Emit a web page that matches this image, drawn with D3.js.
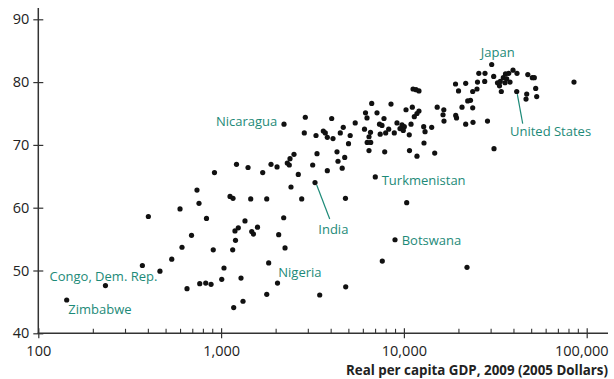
<!DOCTYPE html>
<html>
<head>
<meta charset="utf-8">
<script src="https://cdn.jsdelivr.net/npm/d3@7"></script>
<style>
  html, body { margin: 0; padding: 0; background: #fff; }
  svg { display: block; }
  text { font-family: "Open Sans", "Noto Sans", sans-serif; }
</style>
</head>
<body>
<svg id="chart" width="614" height="379"></svg>
<script>
// Real GDP per capita, 2009 (2005 dollars), one entry per country
const gdp = [
  143, 233, 371, 400, 463, 537, 596, 611, 651, 689,
  738, 757, 764, 824, 832, 881, 906, 920, 1008, 1037,
  1119, 1162, 1157, 1172, 1191, 1199, 1214, 1242, 1285, 1318,
  1351, 1404, 1452, 1471, 1504, 1582, 1689, 1777, 1777, 1821,
  1875, 2023, 2035, 2066, 2200, 2209, 2237, 2302, 2361, 2382,
  2412, 2505, 2644, 2760, 2852, 2888, 3170, 3264, 3305, 3347,
  3463, 3624, 3715, 3811, 3811, 4027, 4094, 4305, 4360, 4488,
  4597, 4660, 4745, 4790, 4805, 4978, 5083, 5415, 6088, 6166,
  6283, 6298, 6443, 6443, 6566, 6582, 6666, 6974, 7127, 7354,
  7589, 7420, 7617, 7782, 7852, 7950, 8256, 8500, 8860, 8940,
  9166, 9760, 10050, 9520, 9920, 10270, 10360, 10700, 10730, 10940,
  11120, 11220, 11650, 12090, 12090, 11790, 11400, 11790, 12830, 13050,
  12880, 14190, 14740, 15210, 16530, 16370, 16570, 19160, 19210, 19400,
  19900, 20790, 21780, 21780, 22140, 22340, 23140, 23790, 23880, 23790,
  25110, 25270, 25690, 27770, 27670, 28660, 30220, 30990, 31110, 32510,
  33340, 33680, 34980, 35740, 36510, 38060, 34110, 35960, 37440, 39530,
  41560, 41410, 47620, 50410, 51690, 52600, 46970, 46560, 53270, 85200
];

// Life expectancy at birth, 2009 (years), same order as gdp
const lifeExp = [
  45.3, 47.6, 50.8, 58.6, 49.9, 51.8, 59.8, 53.7, 47.1, 55.6,
  62.8, 60.7, 47.9, 48.0, 58.3, 47.8, 53.3, 65.6, 48.6, 50.4,
  61.8, 61.5, 53.3, 44.1, 56.3, 54.8, 66.9, 56.8, 48.8, 45.1,
  57.9, 66.4, 61.4, 56.2, 55.8, 56.9, 65.6, 61.4, 46.2, 51.2,
  66.9, 66.5, 48.0, 55.7, 58.4, 73.3, 53.6, 67.1, 66.8, 67.8,
  63.3, 68.5, 65.3, 61.4, 71.9, 74.4, 66.8, 64.0, 71.5, 68.6,
  46.1, 72.2, 71.9, 71.2, 65.9, 74.2, 71.0, 68.9, 67.4, 71.9,
  66.3, 72.8, 68.0, 61.5, 47.4, 70.2, 71.5, 73.5, 72.5, 75.1,
  74.3, 70.4, 71.3, 69.1, 72.0, 70.4, 76.6, 64.9, 75.1, 73.3,
  73.1, 71.7, 51.5, 74.2, 68.9, 71.9, 72.5, 76.5, 71.9, 54.9,
  73.5, 73.2, 72.9, 72.6, 72.3, 75.6, 60.8, 71.6, 69.1, 73.3,
  76.0, 78.9, 78.8, 78.6, 75.4, 75.0, 74.5, 68.2, 72.9, 72.1,
  70.3, 72.8, 68.7, 76.0, 75.6, 74.8, 73.8, 79.7, 74.7, 74.3,
  78.6, 76.0, 79.8, 73.3, 50.5, 77.0, 77.1, 75.9, 73.6, 78.5,
  78.9, 80.0, 81.4, 81.4, 80.1, 73.8, 82.8, 80.9, 69.4, 79.9,
  79.4, 80.1, 80.7, 79.9, 80.5, 80.0, 78.5, 81.3, 81.4, 81.9,
  81.4, 78.5, 81.2, 80.7, 80.7, 79.0, 78.1, 77.3, 77.7, 80.0
];

// Countries called out by name
const labelNames = ["Japan", "United States", "Nicaragua", "India", "Turkmenistan",
                    "Botswana", "Nigeria", "Congo, Dem. Rep.", "Zimbabwe"];
const labelGdp  = [30220, 41410, 2209, 3264, 6974, 8940, 2035, 233, 143];
const labelLife = [82.8, 78.5, 73.3, 64.0, 64.9, 54.9, 48.0, 47.6, 45.3];

const xTickValues = [100, 1000, 10000, 100000];
const yTickValues = [40, 50, 60, 70, 80, 90];
const xTitle = "Real per capita GDP, 2009 (2005 Dollars)";
const yTitle = "Life expectancy, 2009 (years)";

// ---- layout ----
const teal = "#1d8a78";
const axisColor = "#333";
const inkColor = "#222";

// label placement relative to the point: [dx, dy, anchor, leader]
const labelLayout = {
  "Japan":            { dx: 6,    dy: -8,   anchor: "middle" },
  "United States":    { dx: -6.7, dy: 44.5, anchor: "start", leader: [0.6, 2.5, 6, 32] },
  "Nicaragua":        { dx: -6.7, dy: 2,    anchor: "end" },
  "India":            { dx: 3.3,  dy: 51,   anchor: "start", leader: [1.7, 2.5, 14.7, 36.5] },
  "Turkmenistan":     { dx: 6.4,  dy: 8,    anchor: "start" },
  "Botswana":         { dx: 6.7,  dy: 4.8,  anchor: "start" },
  "Nigeria":          { dx: 0.8,  dy: -6.3, anchor: "start" },
  "Congo, Dem. Rep.": { dx: -2,   dy: -4.7, anchor: "middle" },
  "Zimbabwe":         { dx: 1.6,  dy: 14,   anchor: "start" }
};

const svg = d3.select("#chart");

const x = d3.scaleLog().domain([100, 100000]).range([38.3, 586.7]);
const y = d3.scaleLinear().domain([40, 90]).range([333.3, 19.3]);
const x0 = x.range()[0], y0 = y.range()[0];

// y-axis title, running off the top edge of the frame
svg.append("text")
  .attr("x", 5).attr("y", -3)
  .attr("font-size", 14).attr("font-weight", 700)
  .attr("fill", inkColor)
  .text(yTitle);

// ---- y axis ----
const yAxis = svg.append("g")
  .attr("transform", `translate(${x0},0)`)
  .call(d3.axisLeft(y).tickValues(yTickValues).tickSizeInner(5).tickSizeOuter(0).tickPadding(4));
yAxis.select(".domain").remove();
yAxis.selectAll(".tick line").attr("x1", -5).attr("x2", 5).attr("stroke", axisColor).attr("stroke-width", 1.2);
yAxis.selectAll(".tick text")
  .attr("font-family", "'Open Sans', sans-serif")
  .attr("font-size", 14.5).attr("fill", inkColor);
svg.append("line")
  .attr("x1", x0).attr("x2", x0).attr("y1", 8).attr("y2", y0 + 0.7)
  .attr("stroke", axisColor).attr("stroke-width", 1.5);

// ---- x axis ----
const xAxis = svg.append("g")
  .attr("transform", `translate(0,${y0})`)
  .call(d3.axisBottom(x).tickValues(xTickValues).tickFormat(d3.format(","))
        .tickSizeInner(5).tickSizeOuter(0).tickPadding(7));
xAxis.select(".domain").remove();
xAxis.selectAll(".tick line").attr("y1", -5).attr("y2", 5).attr("stroke", axisColor).attr("stroke-width", 1.2);
xAxis.selectAll(".tick text")
  .attr("font-family", "'Open Sans', sans-serif")
  .attr("font-size", 14.5).attr("fill", inkColor);
// keep the last label inside the frame
xAxis.selectAll(".tick text").filter(d => d === 100000)
  .attr("text-anchor", "end").attr("x", 608 - x(100000));

// minor log ticks
const minor = [];
[100, 1000, 10000].forEach(dec => { for (let k = 2; k <= 9; k++) minor.push(dec * k); });
svg.append("g").selectAll("line").data(minor).join("line")
  .attr("x1", d => x(d)).attr("x2", d => x(d))
  .attr("y1", y0).attr("y2", y0 - 4.5)
  .attr("stroke", axisColor).attr("stroke-width", 1.1);

svg.append("line")
  .attr("x1", x0 - 0.7).attr("x2", 608).attr("y1", y0).attr("y2", y0)
  .attr("stroke", axisColor).attr("stroke-width", 1.5);

svg.append("text")
  .attr("x", 608).attr("y", 375)
  .attr("text-anchor", "end")
  .attr("font-size", 13.5).attr("font-weight", 700)
  .attr("fill", inkColor)
  .attr("textLength", 262).attr("lengthAdjust", "spacingAndGlyphs")
  .text(xTitle);

// ---- points ----
const points = gdp.map((g, i) => ({ g, le: lifeExp[i] }));
svg.append("g").selectAll("circle").data(points).join("circle")
  .attr("cx", d => x(d.g)).attr("cy", d => y(d.le))
  .attr("r", 2.6).attr("fill", "#111");

// ---- country labels ----
const labels = labelNames.map((name, i) => ({ name, g: labelGdp[i], le: labelLife[i] }));
const lg = svg.append("g");
labels.forEach(d => {
  const L = labelLayout[d.name];
  const px = x(d.g), py = y(d.le);
  if (L.leader) {
    lg.append("line")
      .attr("x1", px + L.leader[0]).attr("y1", py + L.leader[1])
      .attr("x2", px + L.leader[2]).attr("y2", py + L.leader[3])
      .attr("stroke", teal).attr("stroke-width", 1.2);
  }
  lg.append("text")
    .attr("x", px + L.dx).attr("y", py + L.dy)
    .attr("text-anchor", L.anchor)
    .attr("font-size", 13).attr("fill", teal)
    .text(d.name);
});
</script>
</body>
</html>
